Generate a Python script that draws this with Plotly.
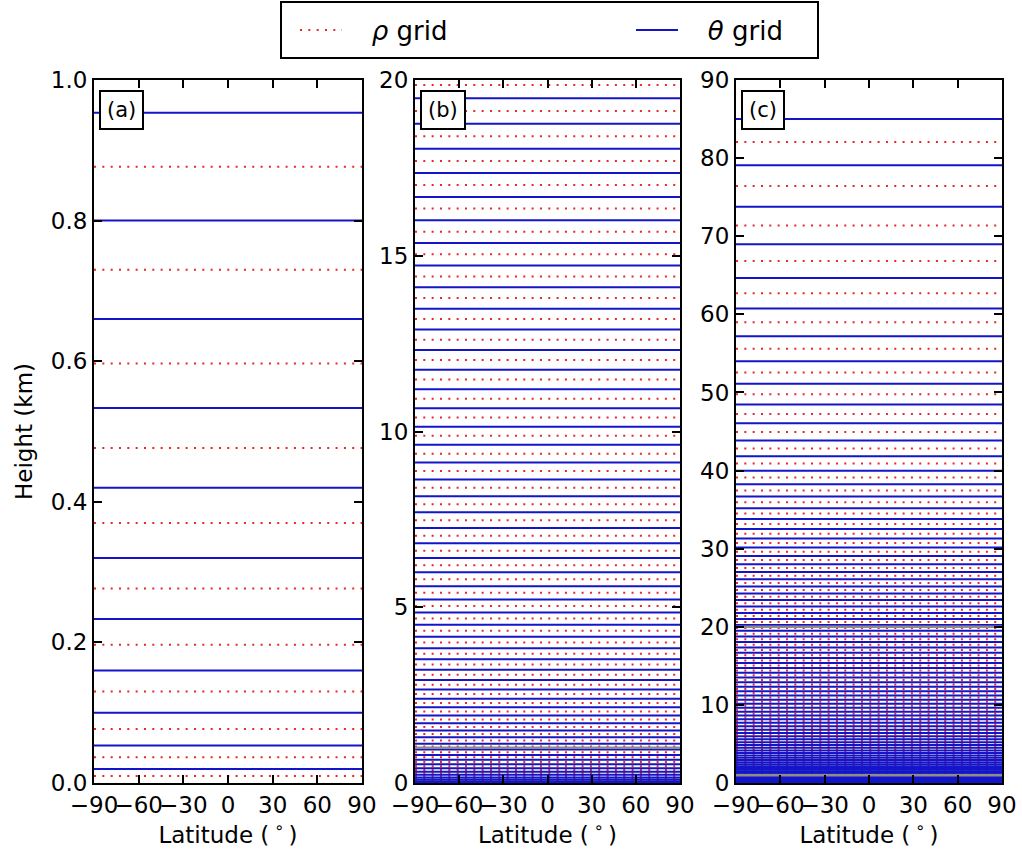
import plotly.graph_objects as go

# ---- data (heights in km) ----
theta_km = [
    0.0200, 0.0533, 0.1000, 0.1600, 0.2333, 0.3200, 0.4200, 0.5333, 0.6600, 0.8000,
    0.9533, 1.1200, 1.3000, 1.4933, 1.7000, 1.9200, 2.1533, 2.4000, 2.6600, 2.9333,
    3.2200, 3.5200, 3.8333, 4.1600, 4.5000, 4.8533, 5.2200, 5.6000, 5.9933, 6.4000,
    6.8200, 7.2533, 7.7000, 8.1600, 8.6333, 9.1200, 9.6200, 10.1334, 10.6601, 11.2002,
    11.7536, 12.3205, 12.9009, 13.4949, 14.1025, 14.7239, 15.3592, 16.0088, 16.6729, 17.3519,
    18.0463, 18.7567, 19.4839, 20.2288, 20.9925, 21.7765, 22.5824, 23.4122, 24.2682, 25.1532,
    26.0706, 27.0241, 28.0183, 29.0582, 30.1500, 31.3005, 32.5177, 33.8106, 35.1895, 36.6662,
    38.2540, 39.9679, 41.8249, 43.8438, 46.0462, 48.4558, 51.0994, 54.0064, 57.2100, 60.7467,
    64.6570, 68.9855, 73.7818, 79.1000, 85.0000,
]
rho_km = [
    0.0100, 0.0367, 0.0767, 0.1300, 0.1967, 0.2767, 0.3700, 0.4767, 0.5967, 0.7300,
    0.8767, 1.0367, 1.2100, 1.3967, 1.5967, 1.8100, 2.0367, 2.2767, 2.5300, 2.7967,
    3.0767, 3.3700, 3.6767, 3.9967, 4.3300, 4.6767, 5.0367, 5.4100, 5.7967, 6.1967,
    6.6100, 7.0367, 7.4767, 7.9300, 8.3967, 8.8767, 9.3700, 9.8767, 10.3968, 10.9302,
    11.4769, 12.0371, 12.6107, 13.1979, 13.7987, 14.4132, 15.0416, 15.6840, 16.3409, 17.0124,
    17.6991, 18.4015, 19.1203, 19.8564, 20.6107, 21.3845, 22.1795, 22.9973, 23.8402, 24.7107,
    25.6119, 26.5474, 27.5212, 28.5383, 29.6041, 30.7253, 31.9091, 33.1642, 34.5001, 35.9279,
    37.4601, 39.1110, 40.8964, 42.8344, 44.9450, 47.2510, 49.7776, 52.5529, 55.6082, 58.9784,
    62.7019, 66.8213, 71.3837, 76.4409, 82.0500,
]
zoom_edges = [[], [1.0], [1.0, 20.0]]          # grey lines marking the zoomed ranges
panel_labels = ["(a)", "(b)", "(c)"]
panel_ymax = [1.0, 20.0, 90.0]
lat_range = [-90, 90]
lat_ticks = [-90, -60, -30, 0, 30, 60, 90]
lat_ticktext = ["\u221290", "\u221260", "\u221230", "0", "30", "60", "90"]
y_ticks = [[0.0, 0.2, 0.4, 0.6, 0.8, 1.0], [0, 5, 10, 15, 20], [0, 10, 20, 30, 40, 50, 60, 70, 80, 90]]
y_ticktext = [["0.0", "0.2", "0.4", "0.6", "0.8", "1.0"], ["0", "5", "10", "15", "20"],
              ["0", "10", "20", "30", "40", "50", "60", "70", "80", "90"]]

W, H = 1022, 856
x_dom_px = [(94, 362), (415, 680), (736, 1002)]
y_dom_px = (80, 783)
legend_box_px = (281, 2, 818, 58)
FONT = "DejaVu Sans"
BLUE = "rgb(20,20,200)"
RED = "rgb(230,40,40)"
GREY = "rgb(140,140,140)"
NB = "\u00a0"


def hlines(levels):
    xs, ys = [], []
    for z in levels:
        xs += [lat_range[0], lat_range[1], None]
        ys += [z, z, None]
    return xs, ys


fig = go.Figure()
for i in range(3):
    xa = "x" if i == 0 else f"x{i+1}"
    ya = "y" if i == 0 else f"y{i+1}"
    xs, ys = hlines(rho_km)
    fig.add_trace(go.Scatter(x=xs, y=ys, mode="lines", xaxis=xa, yaxis=ya,
                             line=dict(color=RED, width=2, dash="2px,6.33px"),
                             name=NB * 3 + "<i>\u03c1</i> grid", showlegend=(i == 0), hoverinfo="skip"))
    xs, ys = hlines(theta_km)
    fig.add_trace(go.Scatter(x=xs, y=ys, mode="lines", xaxis=xa, yaxis=ya,
                             line=dict(color=BLUE, width=2),
                             name=NB * 3 + "<i>\u03b8</i> grid", showlegend=(i == 0), hoverinfo="skip"))
    if zoom_edges[i]:
        xs, ys = hlines(zoom_edges[i])
        fig.add_trace(go.Scatter(x=xs, y=ys, mode="lines", xaxis=xa, yaxis=ya,
                                 line=dict(color=GREY, width=2.5),
                                 showlegend=False, hoverinfo="skip"))

axis_common = dict(showline=True, linecolor="black", linewidth=2, mirror="ticks",
                   ticks="inside", ticklen=8, tickwidth=1.5, tickcolor="black",
                   showgrid=False, zeroline=False, automargin=False,
                   tickfont=dict(family=FONT, size=23, color="black"))

layout = dict(width=W, height=H, margin=dict(l=0, r=0, t=0, b=0),
              paper_bgcolor="white", plot_bgcolor="white",
              font=dict(family=FONT, size=23, color="black"))
annotations = []
for i in range(3):
    sx = "" if i == 0 else str(i + 1)
    x0, x1 = x_dom_px[i]
    xd = [x0 / W, x1 / W]
    yd = [(H - y_dom_px[1]) / H, (H - y_dom_px[0]) / H]
    layout["xaxis" + sx] = dict(axis_common, domain=xd, range=lat_range, anchor="y" + sx,
                                tickmode="array", tickvals=lat_ticks, ticktext=lat_ticktext,
                                tickangle=0,
                                title=dict(text="Latitude (\u2009<sup>\u2218</sup>\u2009)",
                                           font=dict(family=FONT, size=23), standoff=10))
    ydict = dict(axis_common, domain=yd, range=[0, panel_ymax[i]], anchor="x" + sx,
                 tickmode="array", tickvals=y_ticks[i], ticktext=y_ticktext[i])
    if i == 0:
        ydict["title"] = dict(text="Height (km)", font=dict(family=FONT, size=23), standoff=12)
    layout["yaxis" + sx] = ydict
    annotations.append(dict(text=panel_labels[i], xref="paper", yref="paper",
                            x=(x0 + 5) / W, y=(H - y_dom_px[0] - 10) / H,
                            xanchor="left", yanchor="top", showarrow=False,
                            font=dict(family=FONT, size=21, color="black"),
                            bgcolor="white", bordercolor="black", borderwidth=2, borderpad=6))
layout["annotations"] = annotations
lx0, ly0, lx1, ly1 = legend_box_px
layout["shapes"] = [dict(type="rect", xref="paper", yref="paper",
                         x0=lx0 / W, x1=lx1 / W, y0=1 - ly1 / H, y1=1 - ly0 / H,
                         line=dict(color="black", width=2), fillcolor="rgba(0,0,0,0)")]
layout["legend"] = dict(orientation="h", x=(lx0 + 14) / W, xanchor="left",
                        y=1 - ((ly0 + ly1) / 2) / H, yanchor="middle",
                        borderwidth=0, bgcolor="rgba(0,0,0,0)",
                        font=dict(family=FONT, size=26, color="black"),
                        itemwidth=42, entrywidth=279)
fig.update_layout(**layout)
fig.write_html("out.html")
